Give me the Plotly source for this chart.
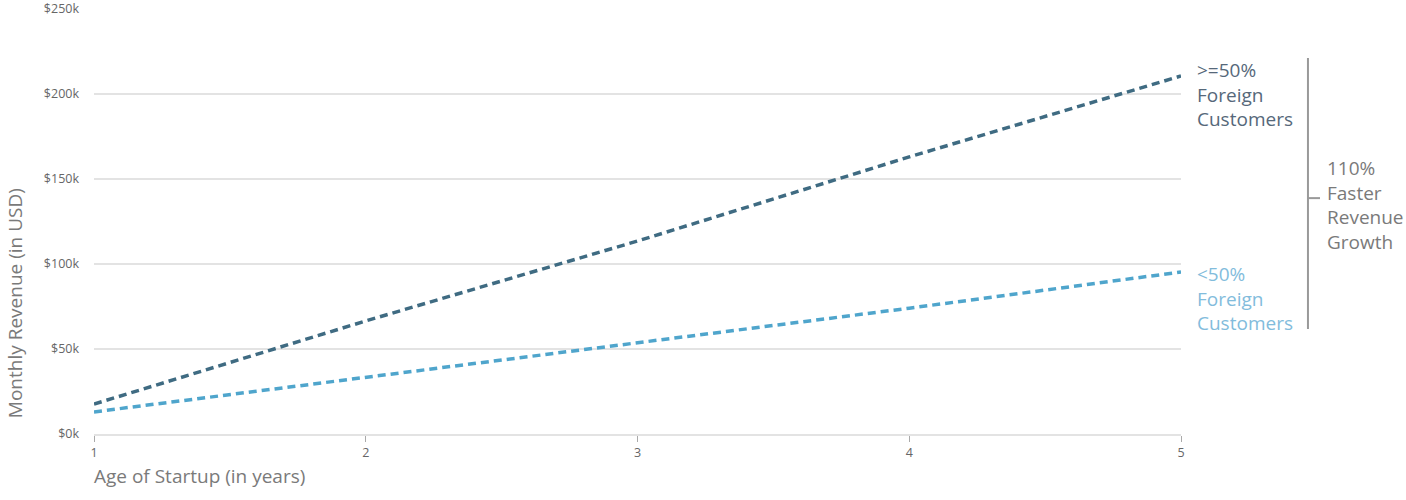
import plotly.graph_objects as go

# data
years = [1, 2, 3, 4, 5]
high_foreign = [17600, 66500, 113500, 163000, 210600]   # >=50% foreign customers
low_foreign = [13000, 33500, 53500, 74000, 95300]       # <50% foreign customers
y_ticks = [0, 50000, 100000, 150000, 200000, 250000]
y_labels = ["$0k", "$50k", "$100k", "$150k", "$200k", "$250k"]
x_ticks = [1, 2, 3, 4, 5]

DARK = "#3f6b82"
LIGHT = "#4fa5cc"
GREY = "#7a7a7a"
FONT = "Open Sans"

fig = go.Figure()
fig.add_trace(go.Scatter(
    x=years, y=high_foreign, mode="lines",
    line=dict(color=DARK, width=3.5, dash="8px,5px"),
    showlegend=False,
))
fig.add_trace(go.Scatter(
    x=years, y=low_foreign, mode="lines",
    line=dict(color=LIGHT, width=3.5, dash="8px,5px"),
    showlegend=False,
))

fig.update_layout(
    width=1406, height=500,
    margin=dict(l=94, r=225, t=9, b=66),
    plot_bgcolor="white", paper_bgcolor="white",
    font=dict(family=FONT, color=GREY),
    xaxis=dict(
        range=[1, 5], tickvals=x_ticks, ticks="outside", ticklen=6,
        tickcolor="#aaaaaa", tickfont=dict(size=12.5, color="#666"),
        showgrid=False, showline=True, linecolor="#e3e3e3", linewidth=2,
        zeroline=False, automargin=False,
    ),
    yaxis=dict(
        range=[0, 250000], tickvals=y_ticks, ticktext=y_labels,
        tickfont=dict(size=12.5, color="#666"), ticklabelstandoff=14,
        showgrid=True, gridcolor="#e3e3e3", gridwidth=2, zeroline=False,
        automargin=False,
    ),
)

# axis titles
fig.add_annotation(
    text="Age of Startup (in years)", xref="paper", yref="paper",
    x=-0.002, y=-0.099, xanchor="left", yanchor="middle", showarrow=False,
    font=dict(size=19, color=GREY),
)
fig.add_annotation(
    text="Monthly Revenue (in USD)", xref="paper", yref="paper",
    x=-0.0725, y=0.033, xanchor="center", yanchor="bottom", textangle=-90,
    showarrow=False, font=dict(size=19, color=GREY),
)

# series labels
fig.add_annotation(
    text=">=50%<br>Foreign<br>Customers", xref="paper", yref="paper",
    x=1.0125, y=0.798, xanchor="left", yanchor="middle", align="left",
    showarrow=False, font=dict(size=19, color="#56687a"),
)
fig.add_annotation(
    text="<50%<br>Foreign<br>Customers", xref="paper", yref="paper",
    x=1.0125, y=0.32, xanchor="left", yanchor="middle", align="left",
    showarrow=False, font=dict(size=19, color="#82bcdc"),
)

# bracket
fig.add_shape(type="line", xref="paper", yref="paper",
              x0=1.1168, x1=1.1168, y0=0.247, y1=0.885,
              line=dict(color="#999999", width=2))
fig.add_shape(type="line", xref="paper", yref="paper",
              x0=1.1168, x1=1.1279, y0=0.555, y1=0.555,
              line=dict(color="#999999", width=2))
fig.add_annotation(
    text="110%<br>Faster<br>Revenue<br>Growth", xref="paper", yref="paper",
    x=1.1322, y=0.539, xanchor="left", yanchor="middle", align="left",
    showarrow=False, font=dict(size=19, color=GREY),
)

fig.write_html("out.html", config={"displayModeBar": False},
               post_script="document.body.style.margin='0';")
